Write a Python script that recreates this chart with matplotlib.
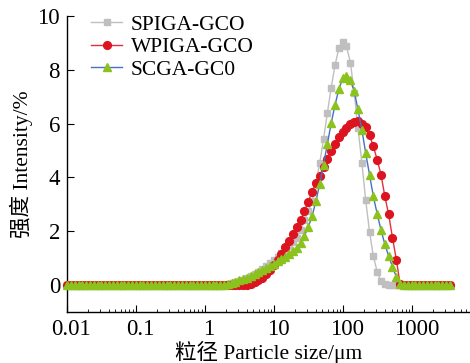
import matplotlib
matplotlib.use("Agg")
import matplotlib.pyplot as plt
import matplotlib.transforms as mtransforms
from matplotlib.ticker import LogLocator, NullFormatter, FixedLocator, FixedFormatter

# particle size classes (um)
size_um = [
    0.0100, 0.0114, 0.0129, 0.0147, 0.0167, 0.0189, 0.0215, 0.0244, 0.0278, 0.0315,
    0.0358, 0.0407, 0.0463, 0.0526, 0.0597, 0.0679, 0.0771, 0.0876, 0.0995, 0.113,
    0.128, 0.146, 0.166, 0.188, 0.214, 0.243, 0.276, 0.314, 0.357, 0.405,
    0.460, 0.523, 0.594, 0.675, 0.767, 0.872, 0.991, 1.13, 1.28, 1.45,
    1.65, 1.88, 2.13, 2.42, 2.75, 3.12, 3.55, 4.03, 4.58, 5.21,
    5.92, 6.72, 7.64, 8.68, 9.86, 11.2, 12.7, 14.5, 16.4, 18.7,
    21.2, 24.1, 27.4, 31.1, 35.3, 40.1, 45.6, 51.8, 58.9, 66.9,
    76.0, 86.4, 98.1, 111, 127, 144, 163, 186, 211, 240,
    272, 310, 352, 400, 454, 516, 586, 666, 756, 859,
    976, 1110, 1260, 1430, 1630, 1850, 2100, 2390, 2710, 3080,
    3500,
]

# intensity (%)
spiga_gco = [
    0, 0, 0, 0, 0, 0, 0, 0, 0, 0,
    0, 0, 0, 0, 0, 0, 0, 0, 0, 0,
    0, 0, 0, 0, 0, 0, 0, 0, 0, 0,
    0, 0, 0, 0, 0, 0, 0, 0, 0, 0,
    0, 0.01, 0.03, 0.06, 0.10, 0.15, 0.20, 0.26, 0.33, 0.41,
    0.50, 0.60, 0.70, 0.82, 0.94, 1.06, 1.18, 1.30, 1.45, 1.60,
    1.75, 2.05, 2.40, 2.75, 3.13, 3.78, 4.53, 5.43, 6.40, 7.34,
    8.18, 8.80, 9.04, 8.88, 8.27, 7.15, 5.85, 4.54, 3.16, 1.98,
    1.08, 0.49, 0.15, 0.03, 0, 0, 0, 0, 0, 0,
    0, 0, 0, 0, 0, 0, 0, 0, 0, 0,
    0,
]

wpiga_gco = [
    0, 0, 0, 0, 0, 0, 0, 0, 0, 0,
    0, 0, 0, 0, 0, 0, 0, 0, 0, 0,
    0, 0, 0, 0, 0, 0, 0, 0, 0, 0,
    0, 0, 0, 0, 0, 0, 0, 0, 0, 0,
    0, 0, 0, 0, 0, 0, 0, 0.02, 0.05, 0.10,
    0.18, 0.28, 0.40, 0.56, 0.75, 0.94, 1.17, 1.40, 1.63, 1.88,
    2.14, 2.42, 2.75, 3.10, 3.46, 3.80, 4.07, 4.40, 4.67, 5.00,
    5.26, 5.50, 5.70, 5.84, 5.99, 6.07, 6.09, 6.00, 5.86, 5.57,
    5.16, 4.66, 4.10, 3.30, 2.63, 1.76, 0.95, 0.03, 0, 0,
    0, 0, 0, 0, 0, 0, 0, 0, 0, 0,
    0,
]

scga_gc0 = [
    0, 0, 0, 0, 0, 0, 0, 0, 0, 0,
    0, 0, 0, 0, 0, 0, 0, 0, 0, 0,
    0, 0, 0, 0, 0, 0, 0, 0, 0, 0,
    0, 0, 0, 0, 0, 0, 0, 0, 0, 0,
    0, 0.01, 0.04, 0.08, 0.13, 0.18, 0.23, 0.28, 0.33, 0.40,
    0.47, 0.55, 0.63, 0.71, 0.80, 0.88, 0.96, 1.05, 1.15, 1.26,
    1.39, 1.58, 1.83, 2.16, 2.55, 3.11, 3.76, 4.48, 5.25, 6.02,
    6.70, 7.28, 7.68, 7.76, 7.61, 7.20, 6.53, 5.77, 4.91, 4.10,
    3.31, 2.64, 2.04, 1.52, 1.08, 0.68, 0.31, 0.03, 0, 0,
    0, 0, 0, 0, 0, 0, 0, 0, 0, 0,
    0,
]

x_ticks = [0.01, 0.1, 1, 10, 100, 1000]
x_ticklabels = ["0.01", "0.1", "1", "10", "100", "1000"]
y_ticks = [0, 2, 4, 6, 8, 10]

fonts = ["Liberation Serif", "Noto Sans CJK SC", "DejaVu Sans"]
plt.rcParams["font.family"] = fonts

fig = plt.figure(figsize=(4.70, 3.63), dpi=100)
ax = fig.add_axes([0.1426, 0.1405, 0.8574, 0.8155])

ax.plot(size_um, spiga_gco, color="#bfbfbf", lw=1.0, marker="s", ms=3.8,
        mec="#bfbfbf", mfc="#bfbfbf", label="SPIGA-GCO", clip_on=False, zorder=3)
ax.plot(size_um, wpiga_gco, color="#e0303a", lw=1.0, marker="o", ms=5.6,
        mec="#dc1420", mfc="#dc1420", label="WPIGA-GCO", clip_on=False, zorder=4)
ax.plot(size_um, scga_gc0, color="#4472c4", lw=1.0, marker="^", ms=5.8,
        mec="#8cc21e", mfc="#8cc21e", label="SCGA-GC0", clip_on=False, zorder=5)

ax.set_xscale("log")
ax.set_xlim(0.01, 10 ** 3.835)
ax.set_ylim(-1, 10)

ax.xaxis.set_major_locator(FixedLocator(x_ticks))
ax.xaxis.set_major_formatter(FixedFormatter(x_ticklabels))
ax.xaxis.set_minor_locator(LogLocator(base=10, subs=range(2, 10), numticks=20))
ax.xaxis.set_minor_formatter(NullFormatter())
ax.set_yticks(y_ticks)

ax.tick_params(axis="both", which="major", direction="in", length=5, width=0.8,
               labelsize=16.5, color="black")
ax.tick_params(axis="x", which="minor", direction="in", length=2.5, width=0.6)
ax.tick_params(axis="x", which="major", pad=5)
ax.tick_params(axis="y", which="major", pad=5)

# tick labels in the original sit a bit right of their ticks
offset = mtransforms.ScaledTranslation(4 / 100, 0, fig.dpi_scale_trans)
for lab in ax.get_xticklabels():
    lab.set_transform(lab.get_transform() + offset)

for s in ["top", "right"]:
    ax.spines[s].set_visible(False)
for s in ["left", "bottom"]:
    ax.spines[s].set_linewidth(1.0)

ax.set_xlabel("粒径 Particle size/μm", fontsize=15.5, labelpad=0.5)
ax.set_ylabel("强度 Intensity/%", fontsize=15.5, labelpad=3)

leg = ax.legend(loc="upper left", bbox_to_anchor=(0.06, 1.005), frameon=False,
                fontsize=15.5, handlelength=1.45, handletextpad=0.4, labelspacing=0.12,
                borderaxespad=0, borderpad=0, numpoints=1)

fig.savefig("out.png", dpi=100)
